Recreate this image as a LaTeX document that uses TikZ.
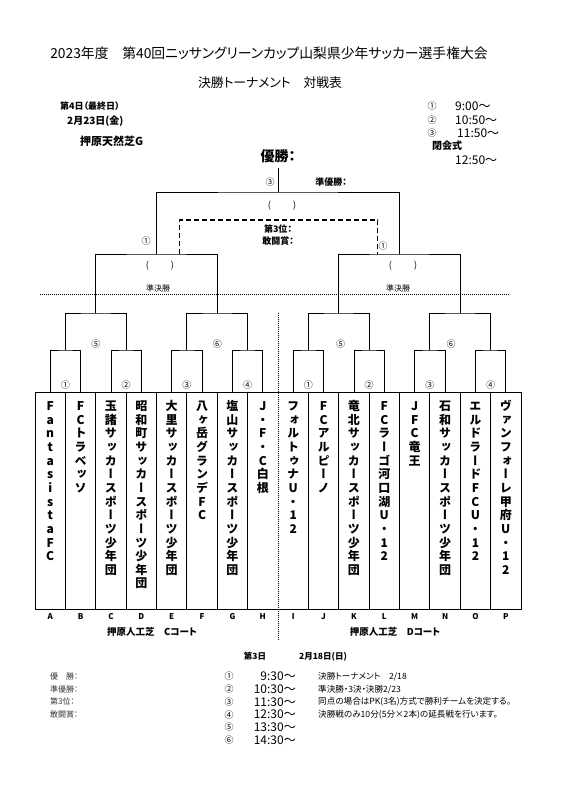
\documentclass[tikz,border=0pt]{standalone}
\usepackage{fontspec}
\setmainfont{Noto Sans CJK JP}[RawFeature=+palt]
\newfontfamily\vfont{Noto Sans CJK JP}[RawFeature=+vert]
\usetikzlibrary{calc}
\newcommand\fsz[1]{\fontsize{#1}{#1}\selectfont}
\newcommand\teamcol[3]{%
  \foreach \ch [count=\k from 0] in {#3} {%
    \node[tchar] (t#2-\k) at ({35+30.375*(#1+0.5)},{406+13.65*\k}) {\ch};}}
\begin{document}
\begin{tikzpicture}[x=1pt,y=-1pt,
  txt/.style={inner sep=0pt,font=\fsz{9}},
  small/.style={inner sep=0pt,font=\fsz{8}},
  tchar/.style={inner sep=0pt,font=\vfont\bfseries\fsz{12},text height=10.5pt,text depth=1.5pt},
  ln/.style={line width=0.8pt},
  dotln/.style={line width=0.8pt,dash pattern=on 1pt off 1pt},
  dashln/.style={line width=1.6pt,dash pattern=on 5pt off 3pt}]
\useasboundingbox (0,0) rectangle (563,799);

% titles
\node[inner sep=0pt,font=\fsz{13.8}] (title) at (269,53) {2023年度　第40回ニッサングリーンカップ山梨県少年サッカー選手権大会};
\node[inner sep=0pt,font=\fsz{12.8}] (subtitle) at (270,83) {決勝トーナメント　対戦表};

% top-left info
\node[inner sep=0pt,font=\fsz{9}\bfseries,anchor=west] (day4) at (60,106.5) {第4日（最終日）};
\node[inner sep=0pt,font=\fsz{10}\bfseries,anchor=west] (date4) at (67,121) {2月23日(金)};
\node[inner sep=0pt,font=\fsz{11}\bfseries,anchor=west] (venue) at (80,141) {押原天然芝G};

% top-right schedule
\node[txt] (tr1) at (432,106) {①};
\node[inner sep=0pt,font=\fsz{12},anchor=west] (tt1) at (455,106) {9:00～};
\node[txt] (tr2) at (432,120) {②};
\node[inner sep=0pt,font=\fsz{12},anchor=west] (tt2) at (455,120) {10:50～};
\node[txt] (tr3) at (432,133) {③};
\node[inner sep=0pt,font=\fsz{12},anchor=west] (tt3) at (457,133) {11:50～};
\node[inner sep=0pt,font=\fsz{10}\bfseries,anchor=west] (closing) at (432,146) {閉会式};
\node[inner sep=0pt,font=\fsz{12},anchor=west] (tt4) at (455,160) {12:50～};

% column centre coordinates on box top
\foreach \i in {0,...,15} \coordinate (c\i) at ({35+30.375*(\i+0.5)},392);
% round 1 tops
\foreach \j in {0,...,7} \coordinate (m\j) at ({35+30.375*(2*\j+1)},350);
% round 2 tops
\foreach \j in {0,...,3} \coordinate (r\j) at ({35+30.375*(4*\j+2)},313);
% semifinal tops
\coordinate (s0) at ({35+30.375*4},254);
\coordinate (s1) at ({35+30.375*12},254);
\coordinate (fin) at (278,192);
\coordinate (fintop) at (278,168);

% brackets
\foreach \j in {0,...,7} {
  \pgfmathtruncatemacro\a{2*\j}\pgfmathtruncatemacro\b{2*\j+1}
  \draw[ln] (c\a) |- (m\j) -| (c\b);}
\foreach \j in {0,...,3} {
  \pgfmathtruncatemacro\a{2*\j}\pgfmathtruncatemacro\b{2*\j+1}
  \draw[ln] (m\a) |- (r\j) -| (m\b);}
\draw[ln] (r0) |- (s0) -| (r1);
\draw[ln] (r2) |- (s1) -| (r3);
\draw[ln] (s0) |- (fin) -| (s1);
\draw[ln] (fin) -- (fintop);

% third-place dashed bracket
\coordinate (d0) at (179.5,254);
\coordinate (d1) at (377.5,254);
\coordinate (dtop) at (278,220);
\draw[dashln] (d0) |- (dtop) -| (d1);

% dotted guides
\coordinate (hl0) at (40,294);
\coordinate (hl1) at (509,294);
\draw[dotln] (hl0) -- (hl1);
\coordinate (vl0) at (278,313);
\coordinate (vl1) at (278,640);
\draw[dotln] (vl0) -- (vl1);

% team box
\coordinate (boxA) at (35,392);
\coordinate (boxB) at (521,609);
\draw[ln] (boxA) rectangle (boxB);
\foreach \k in {1,...,7,9,10,...,15}
  \draw[ln] ({35+30.375*\k},392) -- ({35+30.375*\k},609);

% centre labels
\node[inner sep=0pt,font=\fsz{14}\bfseries] (champ) at (278,156) {優勝：};
\node[txt] (n3) at (270,182) {③};
\node[inner sep=0pt,font=\fsz{9}\bfseries] (runner) at (331,182) {準優勝：};
\node[txt] (paren0) at (282,206) {(\hspace{22pt})};
\node[inner sep=0pt,font=\fsz{9}\bfseries] (third) at (278,229.5) {第3位：};
\node[inner sep=0pt,font=\fsz{9}\bfseries] (fight) at (278,241) {敢闘賞：};
\node[txt] (sfl) at (146,241) {①};
\node[txt] (sfr) at (383,246) {①};
\node[txt] (paren1) at (160,266) {(\hspace{22pt})};
\node[txt] (paren2) at (403,266) {(\hspace{22pt})};
\node[small] (semi1) at (158,288) {準決勝};
\node[small] (semi2) at (398,288) {準決勝};
\node[txt] (q1) at (95.8,344) {⑤};
\node[txt] (q2) at (217.3,344) {⑥};
\node[txt] (q3) at (340.7,344) {⑤};
\node[txt] (q4) at (451,344) {⑥};
\foreach \j/\lab in {0/①,1/②,2/③,3/④,4/①,5/②,6/③,7/④}
  \node[txt] (g\j) at ({35+30.375*(2*\j+1)},385) {\lab};

% team names
\teamcol{0}{A}{F,a,n,t,a,s,i,s,t,a,F,C}
\teamcol{1}{B}{F,C,ト,ラ,ベ,ッ,ソ}
\teamcol{2}{C}{玉,諸,サ,ッ,カ,ー,ス,ポ,ー,ツ,少,年,団}
\teamcol{3}{D}{昭,和,町,サ,ッ,カ,ー,ス,ポ,ー,ツ,少,年,団}
\teamcol{4}{E}{大,里,サ,ッ,カ,ー,ス,ポ,ー,ツ,少,年,団}
\teamcol{5}{F}{八,ヶ,岳,グ,ラ,ン,デ,F,C}
\teamcol{6}{G}{塩,山,サ,ッ,カ,ー,ス,ポ,ー,ツ,少,年,団}
\teamcol{7}{H}{J,・,F,・,C,白,根}
\teamcol{8}{I}{フ,ォ,ル,ト,ゥ,ナ,U,・,1,2}
\teamcol{9}{J}{F,C,ア,ル,ピ,ー,ノ}
\teamcol{10}{K}{竜,北,サ,ッ,カ,ー,ス,ポ,ー,ツ,少,年,団}
\teamcol{11}{L}{F,C,ラ,ー,ゴ,河,口,湖,U,・,1,2}
\teamcol{12}{M}{J,F,C,竜,王}
\teamcol{13}{N}{石,和,サ,ッ,カ,ー,ス,ポ,ー,ツ,少,年,団}
\teamcol{14}{O}{エ,ル,ド,ラ,ー,ド,F,C,U,・,1,2}
\teamcol{15}{P}{ヴ,ァ,ン,フ,ォ,ー,レ,甲,府,U,・,1,2}

% column letters
\foreach \i/\L in {0/A,1/B,2/C,3/D,4/E,5/F,6/G,7/H,8/I,9/J,10/K,11/L,12/M,13/N,14/O,15/P}
  \node[inner sep=0pt,font=\fsz{8}\bfseries] (L\L) at ({35+30.375*(\i+0.5)},617) {\L};
\node[inner sep=0pt,font=\fsz{9.5}\bfseries] (courtC) at (152,632) {押原人工芝　Cコート};
\node[inner sep=0pt,font=\fsz{9.5}\bfseries] (courtD) at (395,632) {押原人工芝　Dコート};

% bottom notes
\node[inner sep=0pt,font=\fsz{8.5}\bfseries] (day3) at (255,656.5) {第3日};
\node[inner sep=0pt,font=\fsz{8.5}\bfseries] (date3) at (323,656.5) {2月18日(日)};
\foreach \t [count=\k from 0] in {優　勝：,準優勝：,第3位：,敢闘賞：}
  \node[small,anchor=west,text=black!80] (aw\k) at (50,{676.5+12.7*\k}) {\t};
\foreach \c/\t [count=\k from 0] in {①/9:30～,②/10:30～,③/11:30～,④/12:30～,⑤/13:30～,⑥/14:30～} {
  \node[txt] (bc\k) at (229,{676.5+12.7*\k}) {\c};
  \node[inner sep=0pt,font=\fsz{12},anchor=east] (bt\k) at (296,{676.5+12.7*\k}) {\t};}
\foreach \t [count=\k from 0] in {決勝トーナメント　2/18,準決勝・3決・決勝2/23,同点の場合はPK(3名)方式で勝利チームを決定する。,決勝戦のみ10分(5分×2本)の延長戦を行います。}
  \node[inner sep=0pt,font=\fsz{8.6},anchor=west] (nt\k) at (318,{676.5+12.7*\k}) {\t};
\end{tikzpicture}
\end{document}
